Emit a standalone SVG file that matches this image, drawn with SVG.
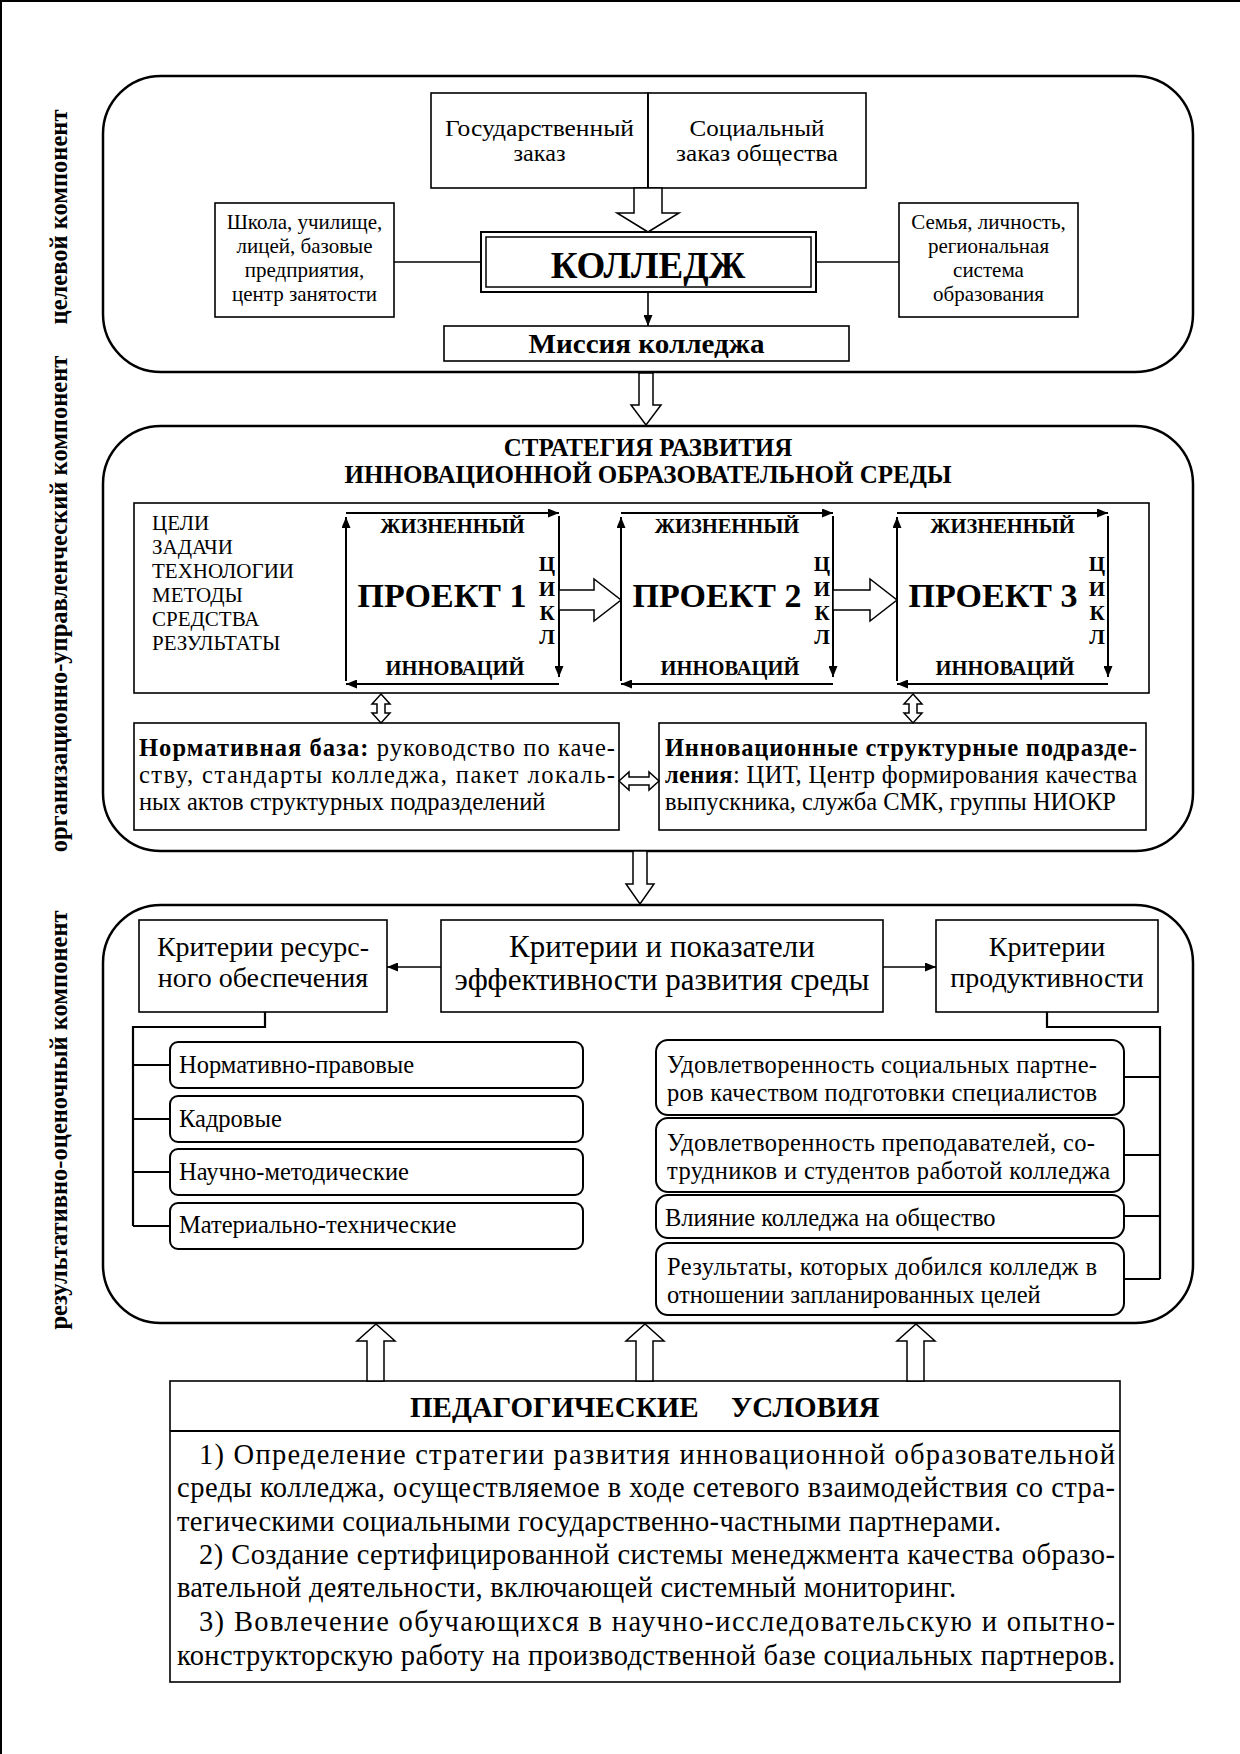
<svg xmlns="http://www.w3.org/2000/svg" width="1240" height="1754" viewBox="0 0 1240 1754">
<style>
.t{font-family:"Liberation Serif","Times New Roman",serif;fill:#000}
.b{font-weight:bold}
.m{text-anchor:middle}
.box{fill:#fff;stroke:#000;stroke-width:1.6}
.rbox{fill:#fff;stroke:#000;stroke-width:2.5}
.item{fill:#fff;stroke:#000;stroke-width:2}
.blk{fill:#fff;stroke:#000;stroke-width:1.5}
.ln{fill:none;stroke:#000;stroke-width:1.6}
.br{fill:none;stroke:#000;stroke-width:2.2}
.cyc{fill:none;stroke:#000;stroke-width:2;marker-end:url(#ah)}
.s21{font-size:21px}
.s22{font-size:22.5px}
.s24{font-size:24.5px}
.s25{font-size:25px}
.s28{font-size:28px}
.s29{font-size:28.5px}
</style>
<defs>
<marker id="ah" markerUnits="userSpaceOnUse" markerWidth="11" markerHeight="9" refX="11" refY="4.5" orient="auto">
<path d="M0,0 L11,4.5 L0,9 z" fill="#000"/>
</marker>
</defs>
<rect width="1240" height="1754" fill="#fff"/>
<path d="M1,1754 V1 H1240" fill="none" stroke="#000" stroke-width="2"/>

<!-- side labels -->
<g id="side-labels" class="t b" font-size="24.5px">
<text class="m" transform="translate(67,217) rotate(-90)">целевой компонент</text>
<text class="m" transform="translate(67,604) rotate(-90)">организационно-управленческий компонент</text>
<text class="m" transform="translate(67,1120) rotate(-90)">результативно-оценочный компонент</text>
</g>

<!-- section containers -->
<g id="section-goal"><rect class="rbox" x="103" y="76" width="1090" height="296" rx="58"/></g>
<g id="section-org"><rect class="rbox" x="103" y="426" width="1090" height="425" rx="58"/></g>
<g id="section-result"><rect class="rbox" x="103" y="905" width="1090" height="418" rx="58"/></g>

<!-- section 1 -->
<g id="order-state">
<rect class="box" x="431" y="93" width="217" height="95"/>
<text class="t s22 m" x="539.5" y="136" textLength="189" lengthAdjust="spacingAndGlyphs">Государственный</text>
<text class="t s22 m" x="539.5" y="161" textLength="52" lengthAdjust="spacingAndGlyphs">заказ</text>
</g>
<g id="order-society">
<rect class="box" x="648" y="93" width="218" height="95"/>
<text class="t s22 m" x="757" y="136" textLength="135" lengthAdjust="spacingAndGlyphs">Социальный</text>
<text class="t s22 m" x="757" y="161" textLength="162" lengthAdjust="spacingAndGlyphs">заказ общества</text>
</g>
<g id="school">
<rect class="box" x="215" y="203" width="179" height="114"/>
<text class="t s21 m" x="304.5" y="229">Школа, училище,</text>
<text class="t s21 m" x="304.5" y="253">лицей, базовые</text>
<text class="t s21 m" x="304.5" y="277">предприятия,</text>
<text class="t s21 m" x="304.5" y="301">центр занятости</text>
</g>
<g id="family">
<rect class="box" x="899" y="203" width="179" height="114"/>
<text class="t s21 m" x="988.5" y="229">Семья, личность,</text>
<text class="t s21 m" x="988.5" y="253">региональная</text>
<text class="t s21 m" x="988.5" y="277">система</text>
<text class="t s21 m" x="988.5" y="301">образования</text>
</g>
<g id="college">
<rect x="481" y="232" width="335" height="60" fill="#fff" stroke="#000" stroke-width="2"/>
<rect x="486" y="237" width="325" height="50" fill="none" stroke="#000" stroke-width="1.5"/>
<text class="t b m" font-size="37px" x="648" y="278">КОЛЛЕДЖ</text>
</g>
<g id="mission">
<rect class="box" x="444" y="326" width="405" height="35"/>
<text class="t b m" font-size="26.5px" x="646.5" y="353" textLength="236" lengthAdjust="spacingAndGlyphs">Миссия колледжа</text>
</g>

<!-- section 2 -->
<g id="strategy-title">
<text class="t b m s25" x="648" y="456">СТРАТЕГИЯ РАЗВИТИЯ</text>
<text class="t b m s25" x="648" y="483">ИННОВАЦИОННОЙ ОБРАЗОВАТЕЛЬНОЙ СРЕДЫ</text>
</g>
<g id="strategy-frame">
<rect class="box" x="134" y="503" width="1015" height="190" fill="none"/>
<text class="t s21" x="152" y="530">ЦЕЛИ</text>
<text class="t s21" x="152" y="554">ЗАДАЧИ</text>
<text class="t s21" x="152" y="578">ТЕХНОЛОГИИ</text>
<text class="t s21" x="152" y="602">МЕТОДЫ</text>
<text class="t s21" x="152" y="626">СРЕДСТВА</text>
<text class="t s21" x="152" y="650">РЕЗУЛЬТАТЫ</text>
</g>
<g id="project1">
<path class="cyc" d="M346,513 H559"/>
<path class="cyc" d="M559,516 V677"/>
<path class="cyc" d="M559,684 H346"/>
<path class="cyc" d="M346,681 V517"/>
<text class="t b m" font-size="20.5px" x="452.5" y="533">ЖИЗНЕННЫЙ</text>
<text class="t b m" font-size="20.5px" x="455" y="675">ИННОВАЦИЙ</text>
<text class="t b m" font-size="34px" x="442" y="607">ПРОЕКТ 1</text>
<text class="t b m s21" x="547" y="571">Ц</text>
<text class="t b m s21" x="547" y="596">И</text>
<text class="t b m s21" x="547" y="620">К</text>
<text class="t b m s21" x="547" y="644">Л</text>
</g>
<g id="project2">
<path class="cyc" d="M621,513 H833"/>
<path class="cyc" d="M833,516 V677"/>
<path class="cyc" d="M833,684 H621"/>
<path class="cyc" d="M621,681 V517"/>
<text class="t b m" font-size="20.5px" x="727" y="533">ЖИЗНЕННЫЙ</text>
<text class="t b m" font-size="20.5px" x="730" y="675">ИННОВАЦИЙ</text>
<text class="t b m" font-size="34px" x="717" y="607">ПРОЕКТ 2</text>
<text class="t b m s21" x="822" y="571">Ц</text>
<text class="t b m s21" x="822" y="596">И</text>
<text class="t b m s21" x="822" y="620">К</text>
<text class="t b m s21" x="822" y="644">Л</text>
</g>
<g id="project3">
<path class="cyc" d="M897,513 H1108"/>
<path class="cyc" d="M1108,516 V677"/>
<path class="cyc" d="M1108,684 H897"/>
<path class="cyc" d="M897,681 V517"/>
<text class="t b m" font-size="20.5px" x="1002.5" y="533">ЖИЗНЕННЫЙ</text>
<text class="t b m" font-size="20.5px" x="1005" y="675">ИННОВАЦИЙ</text>
<text class="t b m" font-size="34px" x="993" y="607">ПРОЕКТ 3</text>
<text class="t b m s21" x="1097" y="571">Ц</text>
<text class="t b m s21" x="1097" y="596">И</text>
<text class="t b m s21" x="1097" y="620">К</text>
<text class="t b m s21" x="1097" y="644">Л</text>
</g>
<g id="normative-base">
<rect class="box" x="134" y="723" width="485" height="107"/>
<text class="t s24" x="139" y="756" textLength="476" lengthAdjust="spacing"><tspan class="b">Нормативная база:</tspan> руководство по каче-</text>
<text class="t s24" x="139" y="783" textLength="476" lengthAdjust="spacing">ству, стандарты колледжа, пакет локаль-</text>
<text class="t s24" x="139" y="810">ных актов структурных подразделений</text>
</g>
<g id="innovation-units">
<rect class="box" x="659" y="723" width="487" height="107"/>
<text class="t s24 b" x="665" y="756" textLength="472" lengthAdjust="spacing">Инновационные структурные подразде-</text>
<text class="t s24" x="665" y="783" textLength="472" lengthAdjust="spacing"><tspan class="b">ления</tspan>: ЦИТ, Центр формирования качества</text>
<text class="t s24" x="665" y="810">выпускника, служба СМК, группы НИОКР</text>
</g>

<!-- section 3 -->
<g id="resource-criteria">
<rect class="box" x="139" y="920" width="248" height="92"/>
<text class="t s28 m" x="263" y="956">Критерии ресурс-</text>
<text class="t s28 m" x="263" y="987">ного обеспечения</text>
</g>
<g id="efficiency-criteria">
<rect class="box" x="441" y="920" width="442" height="92"/>
<text class="t m" font-size="31px" x="662" y="957">Критерии и показатели</text>
<text class="t m" font-size="31px" x="662" y="990">эффективности развития среды</text>
</g>
<g id="productivity-criteria">
<rect class="box" x="936" y="920" width="222" height="92"/>
<text class="t s28 m" x="1047" y="956">Критерии</text>
<text class="t s28 m" x="1047" y="987">продуктивности</text>
</g>
<g id="res-1"><rect class="item" x="170" y="1042" width="413" height="46" rx="8"/><text class="t s24" x="179" y="1073">Нормативно-правовые</text></g>
<g id="res-2"><rect class="item" x="170" y="1096" width="413" height="46" rx="8"/><text class="t s24" x="179" y="1127">Кадровые</text></g>
<g id="res-3"><rect class="item" x="170" y="1149" width="413" height="46" rx="8"/><text class="t s24" x="179" y="1180">Научно-методические</text></g>
<g id="res-4"><rect class="item" x="170" y="1203" width="413" height="46" rx="8"/><text class="t s24" x="179" y="1233">Материально-технические</text></g>
<g id="prod-1"><rect class="item" x="656" y="1040" width="468" height="75" rx="12"/>
<text class="t s24" x="667" y="1073" textLength="430" lengthAdjust="spacing">Удовлетворенность социальных партне-</text>
<text class="t s24" x="667" y="1101" textLength="430" lengthAdjust="spacing">ров качеством подготовки специалистов</text></g>
<g id="prod-2"><rect class="item" x="656" y="1118" width="468" height="74" rx="12"/>
<text class="t s24" x="667" y="1151" textLength="428" lengthAdjust="spacing">Удовлетворенность преподавателей, со-</text>
<text class="t s24" x="667" y="1179" textLength="443" lengthAdjust="spacing">трудников и студентов работой колледжа</text></g>
<g id="prod-3"><rect class="item" x="656" y="1195" width="468" height="43" rx="12"/>
<text class="t s24" x="665" y="1226">Влияние колледжа на общество</text></g>
<g id="prod-4"><rect class="item" x="656" y="1243" width="468" height="72" rx="12"/>
<text class="t s24" x="667" y="1275" textLength="430" lengthAdjust="spacing">Результаты, которых добился колледж в</text>
<text class="t s24" x="667" y="1303">отношении запланированных целей</text></g>

<!-- pedagogical conditions -->
<g id="ped-conditions">
<rect class="box" x="170" y="1381" width="950" height="301"/>
<line x1="170" y1="1431" x2="1120" y2="1431" stroke="#000" stroke-width="2"/>
<text class="t b" font-size="29px" x="410" y="1417">ПЕДАГОГИЧЕСКИЕ</text>
<text class="t b" font-size="29px" x="731" y="1417">УСЛОВИЯ</text>
<text class="t s29" x="199" y="1464" textLength="916" lengthAdjust="spacing">1) Определение стратегии развития инновационной образовательной</text>
<text class="t s29" x="177" y="1497" textLength="938" lengthAdjust="spacing">среды колледжа, осуществляемое в ходе сетевого взаимодействия со стра-</text>
<text class="t s29" x="177" y="1531" textLength="824" lengthAdjust="spacing">тегическими социальными государственно-частными партнерами.</text>
<text class="t s29" x="199" y="1564" textLength="916" lengthAdjust="spacing">2) Создание сертифицированной системы менеджмента качества образо-</text>
<text class="t s29" x="177" y="1597" textLength="779" lengthAdjust="spacing">вательной деятельности, включающей системный мониторинг.</text>
<text class="t s29" x="199" y="1631" textLength="916" lengthAdjust="spacing">3) Вовлечение обучающихся в научно-исследовательскую и опытно-</text>
<text class="t s29" x="177" y="1665" textLength="938" lengthAdjust="spacing">конструкторскую работу на производственной базе социальных партнеров.</text>
</g>

<!-- connectors -->
<g id="connectors">
<line class="ln" x1="648" y1="93" x2="648" y2="188"/>
<polygon class="blk" points="634,188 662,188 662,213 679,213 648,232 617,213 634,213"/>
<line class="ln" x1="394" y1="262" x2="481" y2="262"/>
<line class="ln" x1="816" y1="262" x2="899" y2="262"/>
<line class="ln" x1="648" y1="292" x2="648" y2="326" marker-end="url(#ah)"/>
<polygon class="blk" points="639,373 653,373 653,405 661,405 646,425 631,405 639,405"/>
<polygon class="blk" points="559,590 594,590 594,579 621,600 594,621 594,610 559,610"/>
<polygon class="blk" points="833,590 870,590 870,579 897,600 870,621 870,610 833,610"/>
<polygon class="blk" points="381,694 390,704 385,704 385,713 390,713 381,723 372,713 377,713 377,704 372,704"/>
<polygon class="blk" points="913,694 922,704 917,704 917,713 922,713 913,723 904,713 909,713 909,704 904,704"/>
<polygon class="blk" points="619,781 629,772 629,777 649,777 649,772 659,781 649,790 649,785 629,785 629,790"/>
<polygon class="blk" points="633,851 647,851 647,884 654,884 640,904 626,884 633,884"/>
<line class="ln" x1="441" y1="967" x2="387" y2="967" marker-end="url(#ah)"/>
<line class="ln" x1="883" y1="967" x2="936" y2="967" marker-end="url(#ah)"/>
<path class="br" d="M265,1012 V1027 H133 V1226 M133,1065 H170 M133,1119 H170 M133,1172 H170 M133,1226 H170"/>
<path class="br" d="M1047,1012 V1027 H1160 V1279 M1124,1077 H1160 M1124,1155 H1160 M1124,1216 H1160 M1124,1279 H1160"/>
<polygon class="blk" points="367,1381 384,1381 384,1341 395,1341 376,1324 357,1341 367,1341"/>
<polygon class="blk" points="636,1381 653,1381 653,1341 664,1341 645,1324 626,1341 636,1341"/>
<polygon class="blk" points="907,1381 924,1381 924,1341 935,1341 916,1324 897,1341 907,1341"/>
</g>
</svg>
